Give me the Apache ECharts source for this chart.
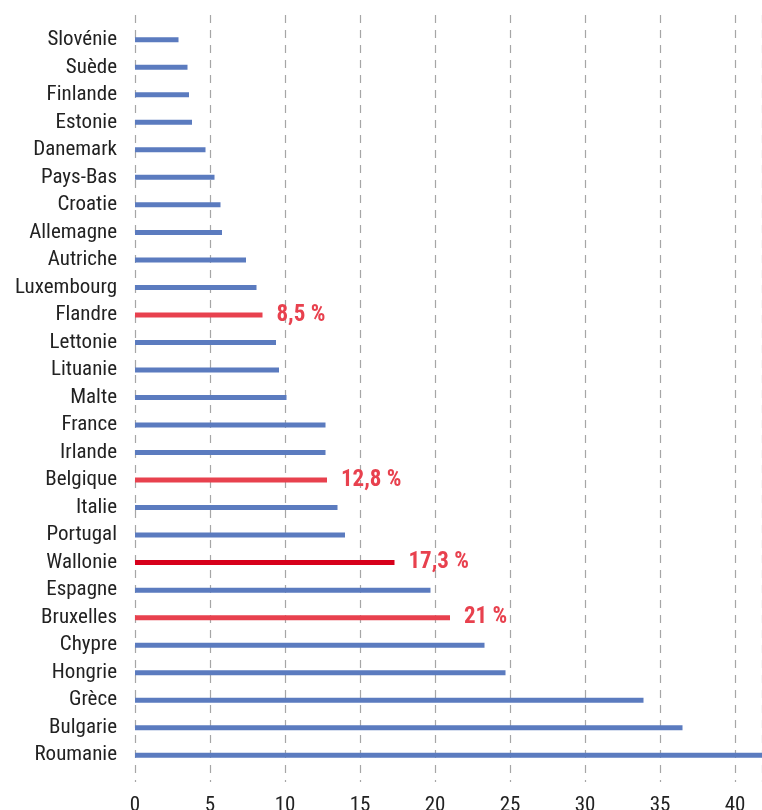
<!DOCTYPE html>
<html><head><meta charset="utf-8">
<script src="https://cdn.jsdelivr.net/npm/echarts@6/dist/echarts.min.js"></script>
<style>html,body{margin:0;padding:0;background:#fff}#c{width:762px;height:810px}</style>
</head><body><div id="c"></div>
<script>
const categories = ["Slovénie","Suède","Finlande","Estonie","Danemark","Pays-Bas","Croatie","Allemagne","Autriche","Luxembourg","Flandre","Lettonie","Lituanie","Malte","France","Irlande","Belgique","Italie","Portugal","Wallonie","Espagne","Bruxelles","Chypre","Hongrie","Grèce","Bulgarie","Roumanie"];
const values = [2.9,3.5,3.6,3.8,4.7,5.3,5.7,5.8,7.4,8.1,8.5,9.4,9.6,10.1,12.7,12.7,12.8,13.5,14.0,17.3,19.7,21.0,23.3,24.7,33.9,36.5,41.8];
const highlightLabels = {"Flandre":"8,5 %","Belgique":"12,8 %","Wallonie":"17,3 %","Bruxelles":"21 %"};
const xTicks = [0,5,10,15,20,25,30,35,40];

const FONT = "'Liberation Sans Narrow','Roboto Condensed','Roboto',sans-serif";
const BLUE = "#5b7bbf", RED = "#e8414e", DARKRED = "#d7001b";
const XMAX = 41.8;

const data = categories.map((c,i)=>{
  let color = BLUE;
  if (c === "Wallonie") color = DARKRED; else if (highlightLabels[c]) color = RED;
  const d = {value: values[i], itemStyle:{color}};
  if (highlightLabels[c]) {
    d.label = {show:true, position:'right', distance:14, formatter: highlightLabels[c],
      color: RED, fontFamily: FONT, fontWeight:'bold', fontSize:23};
  }
  return d;
});

const chart = echarts.init(document.getElementById('c'), null, {renderer:'canvas'});
chart.setOption({
  animation:false,
  grid:[
    {left:135, right:0, top:15, height:767, outerBoundsMode:'none', containLabel:false},
    {left:135, right:0, top:26, height:743, outerBoundsMode:'none', containLabel:false}
  ],
  xAxis:[
    {type:'value', gridIndex:0, min:0, max:XMAX, interval:5,
     axisLine:{show:false}, axisTick:{show:false},
     splitLine:{show:true, lineStyle:{color:'#a6a6a6', type:[8,7], width:1.2}},
     axisLabel:{color:'#222', fontFamily:FONT, fontSize:21, margin:13, showMaxLabel:false,
       formatter:v=> xTicks.includes(v)? String(v) : ''}},
    {type:'value', gridIndex:1, min:0, max:XMAX, show:false}
  ],
  yAxis:[
    {type:'category', gridIndex:0, show:false, data:['a']},
    {type:'category', gridIndex:1, data:categories, inverse:true,
     axisLine:{show:false}, axisTick:{show:false}, splitLine:{show:false},
     axisLabel:{color:'#222', fontFamily:FONT, fontSize:21, margin:18, interval:0}}
  ],
  series:[{type:'bar', xAxisIndex:1, yAxisIndex:1, data, barWidth:5, clip:true}]
});
</script></body></html>
